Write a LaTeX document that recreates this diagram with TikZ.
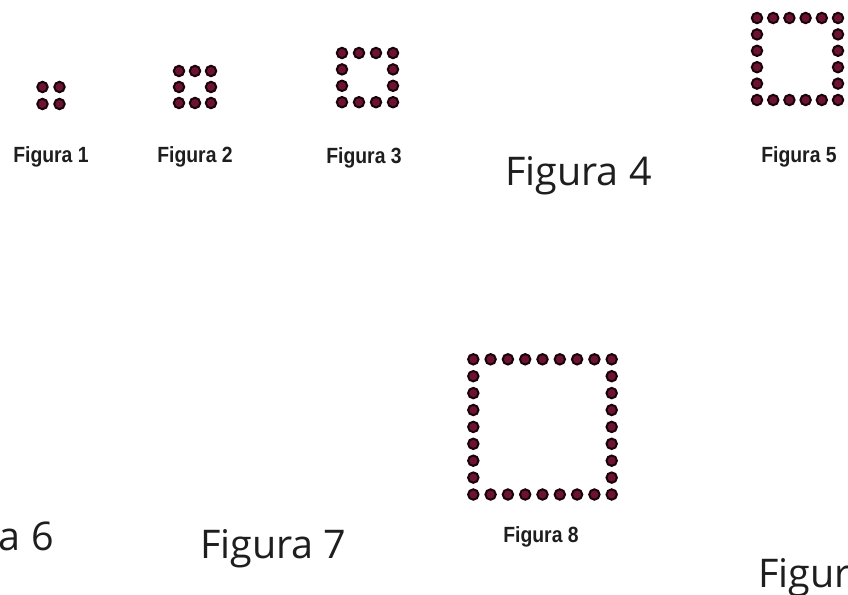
\documentclass[tikz,border=0pt]{standalone}
\usepackage{fontspec}
\setmainfont{Liberation Sans}
\newfontfamily\bigfont{Open Sans}
\definecolor{dotfill}{HTML}{6E1234}
\definecolor{dotring}{HTML}{180408}
\definecolor{txt}{HTML}{1E1E1E}
\tikzset{
  dot/.style={circle,fill=dotfill,draw=dotring,line width=2pt,minimum size=10.4pt,inner sep=0pt},
  smalllabel/.style={anchor=base,inner sep=0pt,text=txt,font=\fontsize{22}{22}\selectfont\bfseries},
  biglabel/.style={inner sep=0pt,text=txt,font=\bigfont\fontsize{39.5}{39.5}\selectfont}
}
\newcommand{\narrowtext}[1]{\scalebox{0.88}[1]{#1}}
\newcommand{\dotsquare}[5]{% x0 y0 dx dy n(number of dots per side)
  \pgfmathtruncatemacro{\last}{#5-1}
  \foreach \i in {0,...,\last}{
    \foreach \j in {0,...,\last}{
      \pgfmathtruncatemacro{\edge}{(\i==0)||(\i==\last)||(\j==0)||(\j==\last)}
      \ifnum\edge=1
        \node[dot] at ({#1+\i*#3},{#2+\j*#4}) {};
      \fi
    }
  }
}
\begin{document}
\begin{tikzpicture}[x=1pt,y=-1pt]
\useasboundingbox (0,0) rectangle (848,594);
\clip (0,0) rectangle (848,594);
\fill[white] (0,0) rectangle (848,594);
% dot figures
\dotsquare{42.5}{87}{17}{17}{2}
\dotsquare{179}{71}{16}{16}{3}
\dotsquare{342}{53}{17}{16.4}{4}
\dotsquare{757}{18}{16.2}{16.4}{6}
\dotsquare{473.3}{359.3}{17.3}{16.9}{9}
% small labels
\node[smalllabel] (f1) at (51,162) {\narrowtext{Figura 1}};
\node[smalllabel] (f2) at (195,162) {\narrowtext{Figura 2}};
\node[smalllabel] (f3) at (364,163) {\narrowtext{Figura 3}};
\node[smalllabel] (f5) at (799,162) {\narrowtext{Figura 5}};
\node[smalllabel] (f8) at (541,542) {\narrowtext{Figura 8}};
% big labels
\node[biglabel,anchor=base west] (f4) at (505,185) {Figura 4};
\node[biglabel,anchor=base east] (f6) at (54,550) {Figura 6};
\node[biglabel,anchor=base west] (f7) at (200,558) {Figura 7};
\node[biglabel,anchor=base west] (f9) at (758,587) {Figura 9};
\end{tikzpicture}
\end{document}
